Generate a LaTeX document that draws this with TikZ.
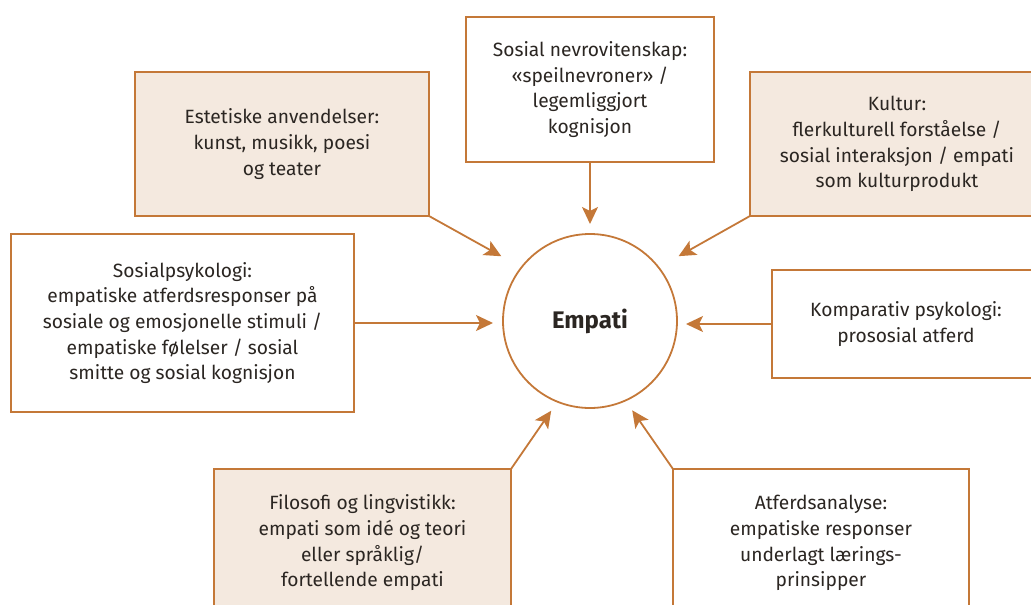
\documentclass[tikz,border=0pt]{standalone}
\usepackage{fontspec}
\setmainfont{Fira Sans}
\usetikzlibrary{arrows.meta}
\definecolor{empOrange}{HTML}{C47838}
\definecolor{empBeige}{HTML}{F4E9DF}
\definecolor{empText}{HTML}{2B2622}

\begin{document}
\begin{tikzpicture}[x=1pt,y=-1pt]
            \tikzset{
            emp node/.style={circle,draw=empOrange,line width=1.8pt,minimum size=174pt,inner sep=0,outer sep=0,text=empText,font=\fontsize{24}{28}\selectfont\bfseries},
            emp box/.style={rectangle,draw=empOrange,line width=1.3pt,inner sep=0,outer sep=0,align=center,text=empText,font=\fontsize{19.2}{25.7}\selectfont},
            emp fill/.style={fill=empBeige},
            emp edge/.style={draw=empOrange,line width=1.8pt,-{Stealth[length=17pt,width=16pt,inset=4pt]}}
            }
            \useasboundingbox (0,0) rectangle (1031,605);

            \node[emp node] (emp) at (590,321) {Empati};
            \node[emp box,emp fill,minimum width=294pt,minimum height=144pt] (est) at (282,144) {Estetiske anvendelser:\\kunst, musikk, poesi\\og teater};
            \node[emp box,fill=white,minimum width=248pt,minimum height=145pt] (nev) at (590,89.5) {Sosial nevrovitenskap:\\«speilnevroner» /\\legemliggjort\\kognisjon};
            \node[emp box,emp fill,minimum width=294pt,minimum height=144pt] (kul) at (897,144) {Kultur:\\flerkulturell forståelse /\\sosial interaksjon / empati\\som kulturprodukt};
            \node[emp box,fill=white,minimum width=343pt,minimum height=178pt] (sp) at (182.5,323) {Sosialpsykologi:\\empatiske atferdsresponser på\\sosiale og emosjonelle stimuli /\\empatiske følelser / sosial\\smitte og sosial kognisjon};
            \node[emp box,fill=white,minimum width=268pt,minimum height=108pt] (kom) at (906,324) {Komparativ psykologi:\\prososial atferd};
            \node[emp box,emp fill,minimum width=297pt,minimum height=148pt] (fil) at (362.5,543) {Filosofi og lingvistikk:\\empati som idé og teori\\eller språklig/\\fortellende empati};
            \node[emp box,fill=white,minimum width=296pt,minimum height=148pt] (atf) at (821,543) {Atferdsanalyse:\\empatiske responser\\underlagt lærings-\\prinsipper};

            \path
            (est.south east) edge[emp edge,shorten >=23pt] (emp.142)
            (nev.south) edge[emp edge,shorten >=10pt] (emp.north)
            (kul.south west) edge[emp edge,shorten >=23pt] (emp.38)
            (sp.east) edge[emp edge,shorten >=10pt] (sp.east -| emp.west)
            (kom.west) edge[emp edge,shorten >=9pt] (kom.west -| emp.east)
            (fil.north east) edge[emp edge,shorten >=11pt] (emp.248)
            (atf.north west) edge[emp edge,shorten >=12pt] (emp.294)
            ;
        \end{tikzpicture}
\end{document}
